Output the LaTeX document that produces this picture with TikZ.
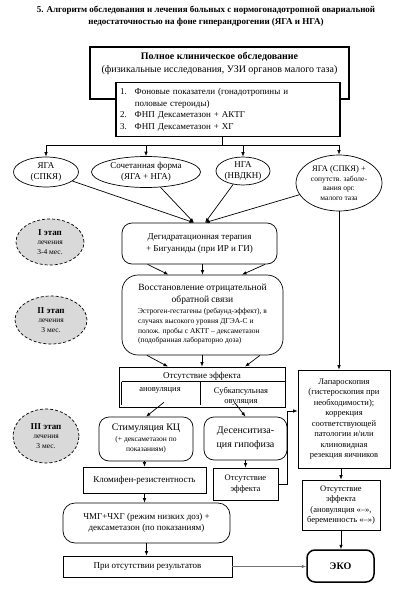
\documentclass[tikz,border=0pt]{standalone}
\usepackage{fontspec}
\setmainfont{Liberation Serif}
\usetikzlibrary{arrows.meta,positioning,shapes.geometric}

\newcommand{\titlefs}{\fontsize{9}{12}\selectfont}
\newcommand{\mainfs}{\fontsize{9}{11.5}\selectfont}
\newcommand{\bigfs}{\fontsize{10}{12.5}\selectfont}
\newcommand{\labfs}{\fontsize{8.5}{10.5}\selectfont}
\newcommand{\smallfs}{\fontsize{7.5}{9.6}\selectfont}

\begin{document}
\begin{tikzpicture}[
  x=1pt, y=-1pt,
  line width=0.7pt,
  every node/.style={align=center, inner sep=1pt, font=\mainfs},
  box/.style={draw, rectangle},
  rbox/.style={draw, rectangle, rounded corners=10pt},
  oval/.style={draw, ellipse, inner sep=0pt},
  stage/.style={draw, ellipse, densely dashed, fill=gray!30,
    inner sep=0pt, font=\smallfs},
  arrow/.style={-{Latex[length=4.5pt,width=3.5pt]}}
]
\useasboundingbox (0,0) rectangle (400,597);

% title
\node (title) [font=\titlefs\bfseries] at (206,16)
  {5. Алгоритм обследования и лечения больных с нормогонадотропной овариальной\\
   недостаточностью на фоне гиперандрогении (ЯГА и НГА)};

% examination
\node (exam) [box, line width=1.5pt, minimum width=259pt, minimum height=52pt] at (219.5,73) {};
\node (examtxt) [font=\bigfs] at (219.5,63.5)
  {\textbf{Полное клиническое обследование}\\(физикальные исследования, УЗИ органов малого таза)};
\node (tests) [box, line width=1.5pt, fill=white, minimum height=53pt,
  text width=216pt, inner sep=4pt, align=left] at (228,109.5)
  {\begin{tabular}{@{}r@{\hspace{8pt}}l@{}}
   1. & Фоновые показатели (гонадотропины и\\
      & половые стероиды)\\
   2. & ФНП Дексаметазон + АКТГ\\
   3. & ФНП Дексаметазон + ХГ
   \end{tabular}};

% forms
\coordinate (bus) at (222,145);
\node (yga) [oval, minimum width=65pt, minimum height=30pt] at (46,172) {ЯГА\\(СПКЯ)};
\node (mix) [oval, minimum width=109pt, minimum height=31pt] at (146,172) {Сочетанная форма\\(ЯГА + НГА)};
\node (nga) [oval, minimum width=54pt, minimum height=28pt] at (243,171) {НГА\\(НВДКН)};
\node (ygap) [oval, minimum width=86pt, minimum height=56pt, font=\smallfs] at (339,183)
  {{\labfs ЯГА (СПКЯ) +}\\сопутств. заболе-\\вания орг.\\малого таза};

\draw (tests.south -| bus) -- (bus);
\draw (yga.north |- bus) -- (ygap.north |- bus);
\foreach \f in {yga,mix,nga,ygap}
  \draw[arrow] (\f.north |- bus) -- (\f.north);

% stage I
\node (st1) [stage, minimum width=68pt, minimum height=46pt] at (50,242)
  {{\mainfs\bfseries I этап}\\лечения\\3-4 мес.};
\node (dehyd) [rbox, minimum width=155pt, minimum height=41pt] at (199.5,243.5)
  {Дегидратационная терапия\\+ Бигуаниды (при ИР и ГИ)};
\draw[arrow] (yga) -- (dehyd.105);
\draw[arrow] (mix) -- (dehyd.105);
\draw[arrow] (nga) -- (dehyd.75);
\draw[arrow] (ygap) -- (dehyd.75);

% stage II
\node (st2) [stage, minimum width=72pt, minimum height=48pt] at (51,320)
  {{\mainfs\bfseries II этап}\\лечения\\3 мес.};
\node (restor) [rbox, rounded corners=16pt, minimum width=161pt, minimum height=80pt] at (202.5,315)
  {{\fontsize{9.5}{12}\selectfont Восстановление отрицательной}\\
   {\fontsize{9.5}{12}\selectfont обратной связи}\\
   \smallfs\begin{tabular}[t]{@{}l@{}}
   Эстроген-гестагены (ребаунд-эффект), в\\
   случаях высокого уровня ДГЭА-С и\\
   полож. пробы с АКТГ – дексаметазон\\
   (подобранная лабораторно доза)
   \end{tabular}};
\draw[arrow] ([xshift=-52pt]dehyd.south) -- ([xshift=-34pt]restor.north);
\draw[arrow] (restor.north |- dehyd.south) -- (restor.north);
\draw[arrow] ([xshift=65.5pt]dehyd.south) -- ([xshift=39.5pt]restor.north);

% no effect
\node (noeff) [box, minimum width=166pt, minimum height=40pt] at (202,387) {};
\node (noefftxt) at (202,376.5) {Отсутствие эффекта};
\draw ([shift={(3pt,-15pt)}]noeff.north west) -- ([yshift=-15pt]noeff.north east);
\draw ([shift={(3pt,-15pt)}]noeff.north west) -- ([shift={(3pt,2pt)}]noeff.south west);
\draw ([shift={(-2pt,-15pt)}]noeff.north) -- ([shift={(-2pt,2pt)}]noeff.south);
\node (anov) [font=\labfs] at (160,390) {ановуляция};
\node (subk) [font=\labfs] at (241,396.5) {Субкапсульная\\овуляция};
\draw[arrow] ([xshift=-55.5pt]restor.south) -- ([xshift=-34pt]noeff.north);
\draw[arrow] (noeff.north |- restor.south) -- (noeff.north);
\draw[arrow] ([xshift=57.5pt]restor.south) -- ([xshift=43pt]noeff.north);

% stage III
\node (st3) [stage, minimum width=66pt, minimum height=54pt] at (46,436)
  {{\mainfs\bfseries III этап}\\лечения\\3 мес.};
\node (stim) [rbox, minimum width=94pt, minimum height=44pt] at (146,439)
  {{\bigfs Стимуляция КЦ}\\
   \smallfs\begin{tabular}[t]{@{}c@{}}(+ дексаметазон по\\показаниям)\end{tabular}};
\node (desens) [rbox, minimum width=83pt, minimum height=43pt,
  font=\fontsize{10}{13.5}\selectfont] at (245.5,438.5) {Десенситиза-\\ция гипофиза};
\draw[arrow] ([xshift=4pt,yshift=-8pt]anov.south) -- (stim.north);
\draw[arrow] ([xshift=-6pt,yshift=4pt]subk.south) -- (desens.north);

\node (clomi) [box, minimum width=123pt, minimum height=26pt] at (144.5,480) {Кломифен-резистентность};
\node (noeff2) [box, minimum width=65pt, minimum height=32pt, font=\labfs] at (245.5,484) {Отсутствие\\эффекта};
\draw[arrow] (clomi.north |- stim.south) -- (clomi.north);
\draw[arrow] (desens.south) -- (noeff2.north);

% laparoscopy
\node (lap) [box, minimum width=92pt, minimum height=98pt, font=\labfs] at (344,419)
  {Лапароскопия\\(гистероскопия при\\необходимости);\\коррекция\\соответствующей\\патологии и/или\\клиновидная\\резекция яичников};
\draw[arrow] (ygap.south) -- (ygap.south |- lap.north);
\draw[arrow] (noeff2.east) -- ++(9pt,0) |- ([yshift=8pt]lap.west);
\node (noeff3) [box, minimum width=78pt, minimum height=50pt, font=\labfs] at (341,505)
  {Отсутствие\\эффекта\\(ановуляция «–»,\\беременность «–»)};
\draw[arrow] (noeff3.north |- lap.south) -- (noeff3.north);

% gonadotropins and IVF
\node (chmg) [rbox, rounded corners=12pt, minimum width=167pt, minimum height=40pt] at (146.5,523)
  {ЧМГ+ЧХГ (режим низких доз) +\\дексаметазон (по показаниям)};
\node (nores) [box, minimum width=169pt, minimum height=21pt] at (147.5,566.5) {При отсутствии результатов};
\node (eco) [rbox, rounded corners=8pt, line width=1.5pt, minimum width=67pt, minimum height=32pt,
  font=\bigfs\bfseries] at (340.5,566) {ЭКО};
\draw[arrow] (clomi.south) -- (clomi.south |- chmg.north);
\draw[arrow] (chmg.south) -- (chmg.south |- nores.north);
\draw[arrow] (noeff3.south) -- (noeff3.south |- eco.north);
\draw[arrow, black!55] (nores.east) -- (nores.east -| eco.west);

\end{tikzpicture}
\end{document}
